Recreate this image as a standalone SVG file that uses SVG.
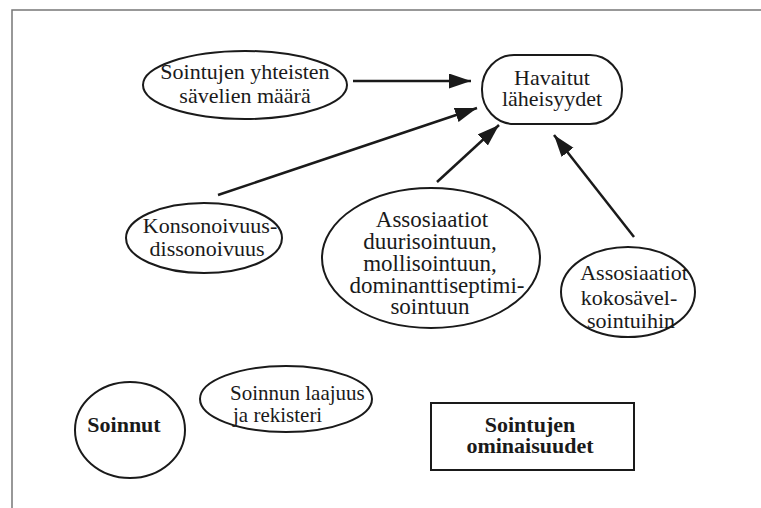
<svg xmlns="http://www.w3.org/2000/svg" width="761" height="508" viewBox="0 0 761 508">
<defs>
<style>
.shape{fill:#fff;stroke:#1a1a1a;stroke-width:2}
.t{font-family:"Liberation Serif","Times New Roman",serif;font-size:22px;fill:#1a1a1a;text-anchor:middle}
.big{font-size:23px}
.l{text-anchor:start;font-size:21px}
.b{font-weight:bold}
.edge{stroke:#1a1a1a;stroke-width:2.5;fill:none;marker-end:url(#ah)}
.frame{stroke:#777;stroke-width:1.5;fill:none}
</style>
<marker id="ah" markerUnits="userSpaceOnUse" markerWidth="24" markerHeight="16" refX="22" refY="7.5" orient="auto">
<path d="M0,0 L22,7.5 L0,15 z" fill="#1a1a1a"/>
</marker>
</defs>
<rect width="761" height="508" fill="#fff"/>
<path class="frame" d="M12,508 L12,10 L761,10"/>
<g id="connectors">
<line class="edge" x1="353" y1="81" x2="471" y2="81"/>
<line class="edge" x1="218" y1="195" x2="477" y2="108"/>
<line class="edge" x1="437" y1="182" x2="499" y2="125"/>
<line class="edge" x1="634" y1="237" x2="554" y2="135"/>
</g>
<g id="n-yhteiset">
<ellipse class="shape" cx="245" cy="85" rx="102" ry="34"/>
<text class="t" x="245" y="79">Sointujen yhteisten</text>
<text class="t" x="245" y="103">sävelien määrä</text>
</g>
<g id="n-havaitut">
<rect class="shape" x="482" y="55" width="140" height="69" rx="32" ry="34"/>
<text class="t" x="552" y="85">Havaitut</text>
<text class="t" x="552" y="106">läheisyydet</text>
</g>
<g id="n-konsonoivuus">
<ellipse class="shape" cx="204" cy="238" rx="78" ry="35"/>
<text class="t" x="210" y="233">Konsonoivuus-</text>
<text class="t" x="207" y="256">dissonoivuus</text>
</g>
<g id="n-assosiaatiot">
<ellipse class="shape" cx="431" cy="258" rx="109" ry="70"/>
<text class="t big" x="432" y="227">Assosiaatiot</text>
<text class="t big" x="430" y="249">duurisointuun,</text>
<text class="t big" x="430" y="271">mollisointuun,</text>
<text class="t big" x="437" y="293">dominanttiseptimi-</text>
<text class="t big" x="430" y="314">sointuun</text>
</g>
<g id="n-kokosavel">
<ellipse class="shape" cx="628" cy="292" rx="67" ry="45"/>
<text class="t" x="634" y="280">Assosiaatiot</text>
<text class="t" x="629" y="305">kokosävel-</text>
<text class="t" x="631" y="328">sointuihin</text>
</g>
<g id="n-soinnut">
<ellipse class="shape" cx="130" cy="430" rx="55" ry="48"/>
<text class="t b" x="124" y="432">Soinnut</text>
</g>
<g id="n-laajuus">
<ellipse class="shape" cx="286" cy="399" rx="86" ry="33"/>
<text class="t l" x="230" y="400">Soinnun laajuus</text>
<text class="t l" x="233" y="422">ja rekisteri</text>
</g>
<g id="n-ominaisuudet">
<rect class="shape" x="431" y="403" width="203" height="67"/>
<text class="t b" x="530" y="432">Sointujen</text>
<text class="t b" x="530" y="453">ominaisuudet</text>
</g>
</svg>
